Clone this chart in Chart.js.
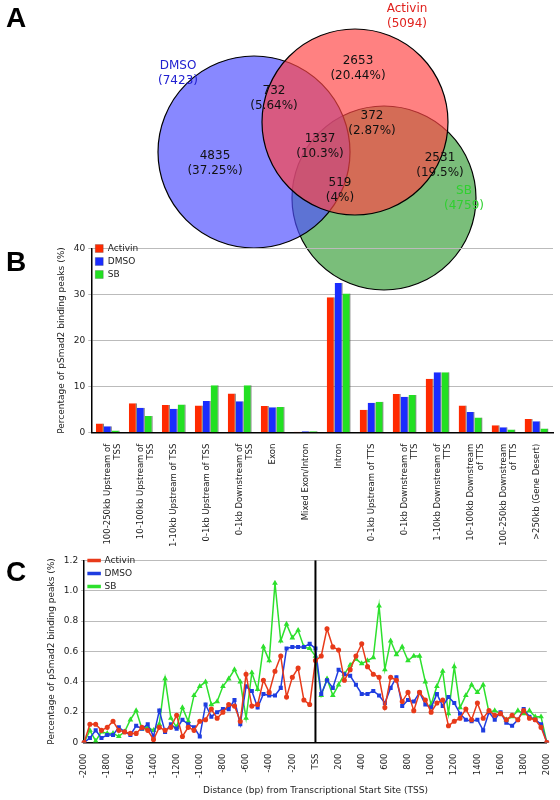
<!DOCTYPE html>
<html><head><meta charset="utf-8">
<script src="https://cdn.jsdelivr.net/npm/chart.js@4"></script>
<style>
body{margin:0;width:560px;height:800px;background:#fff;position:relative;font-family:"DejaVu Sans",sans-serif;overflow:hidden}
.c{position:absolute;left:0}
.lab{position:absolute;font:bold 28px "Liberation Sans",Arial,sans-serif}
</style></head><body>
<div class="c" style="top:0;width:560px;height:300px"><canvas id="a" width="560" height="300" style="width:560px;height:300px"></canvas></div>
<div class="c" style="top:240px;width:560px;height:310px"><canvas id="b"></canvas></div>
<div class="c" style="top:552px;width:560px;height:248px"><canvas id="cc"></canvas></div>
<div class="lab" style="left:6px;top:2px">A</div>
<div class="lab" style="left:6px;top:246px">B</div>
<div class="lab" style="left:6px;top:556px">C</div>
<script>
// ---- Panel A: Venn ----
const vennSets=["Activin","DMSO","SB"];
const vennTotals=[5094,7423,4759];
const vennCx=[355,254,384];
const vennCy=[122,152,198];
const vennR=[93,96,92];
const vennColors=["rgba(255,70,70,0.68)","rgba(80,80,255,0.68)","rgba(40,150,40,0.62)"];
const vennLabelColors=["#e0201c","#2020d0","#30d030"];
const regionCounts=["2653\n(20.44%)","732\n(5.64%)","372\n(2.87%)","1337\n(10.3%)","4835\n(37.25%)","519\n(4%)","2531\n(19.5%)"];
const regionX=[358,274,372,320,215,340,440];
const regionY=[68,98,123,146,163,190,165];
const setLabelX=[407,178,464];
const setLabelY=[16,73,198];

// ---- Panel B ----
const barCats=[["100-250kb Upstream of","TSS"],["10-100kb Upstream of","TSS"],"1-10kb Upstream of TSS","0-1kb Upstream of TSS",["0-1kb Downstream of","TSS"],"Exon","Mixed Exon/Intron","Intron","0-1kb Upstream of TTS",["0-1kb Downstream of","TTS"],["1-10kb Downstream of","TTS"],["10-100kb Downstream","of TTS"],["100-250kb Downstream","of TTS"],">250kb (Gene Desert)"];
const barActivin=[2.0,6.4,6.0,5.9,8.5,5.8,0.2,29.4,5.0,8.4,11.7,5.9,1.6,3.0];
const barDMSO=[1.4,5.4,5.2,6.9,6.8,5.5,0.3,32.5,6.5,7.8,13.1,4.5,1.2,2.5];
const barSB=[0.5,3.6,6.1,10.3,10.3,5.6,0.3,30.2,6.7,8.2,13.1,3.3,0.7,0.9];

// ---- Panel C ----
const distX=[];for(let v=-2000;v<=2000;v+=50)distX.push(v);
const lineActivin=[0,0.12,0.12,0.08,0.10,0.14,0.08,0.07,0.06,0.06,0.10,0.08,0.02,0.10,0.08,0.10,0.18,0.04,0.10,0.08,0.14,0.15,0.22,0.16,0.20,0.25,0.24,0.14,0.45,0.24,0.25,0.41,0.33,0.47,0.57,0.30,0.43,0.49,0.28,0.25,0.54,0.57,0.75,0.63,0.61,0.41,0.48,0.57,0.65,0.50,0.45,0.43,0.23,0.43,0.41,0.27,0.33,0.21,0.33,0.28,0.20,0.26,0.28,0.11,0.14,0.16,0.22,0.15,0.26,0.16,0.21,0.18,0.19,0.15,0.18,0.15,0.21,0.16,0.15,0.10,0];
const lineDMSO=[0,0.03,0.08,0.03,0.05,0.05,0.10,0.07,0.05,0.11,0.09,0.12,0.04,0.21,0.07,0.12,0.09,0.15,0.12,0.10,0.04,0.25,0.17,0.20,0.22,0.22,0.28,0.12,0.37,0.34,0.23,0.32,0.31,0.31,0.36,0.62,0.63,0.63,0.63,0.65,0.62,0.32,0.41,0.36,0.48,0.45,0.44,0.38,0.32,0.32,0.34,0.31,0.26,0.36,0.43,0.24,0.28,0.27,0.33,0.25,0.23,0.32,0.24,0.30,0.26,0.19,0.15,0.14,0.15,0.08,0.20,0.15,0.20,0.13,0.11,0.15,0.22,0.17,0.15,0.12,0];
const lineSB=[0,0.08,0.01,0.07,0.06,0.06,0.04,0.07,0.15,0.21,0.09,0.10,0.08,0.12,0.42,0.16,0.10,0.23,0.14,0.31,0.37,0.40,0.25,0.27,0.37,0.42,0.48,0.40,0.16,0.46,0.35,0.63,0.54,1.05,0.67,0.78,0.69,0.74,0.63,0.62,0.57,0.31,0.42,0.31,0.38,0.45,0.51,0.55,0.52,0.54,0.56,0.90,0.48,0.67,0.58,0.63,0.54,0.57,0.57,0.40,0.25,0.37,0.47,0.19,0.50,0.23,0.31,0.38,0.33,0.38,0.20,0.21,0.19,0.15,0.17,0.21,0.19,0.21,0.17,0.17,0];

const F="'DejaVu Sans', Verdana, sans-serif";
Chart.defaults.font.family=F;Chart.defaults.color="#222";Chart.defaults.animation=false;

// Venn
new Chart(document.getElementById('a'),{type:'bubble',
 data:{datasets:vennSets.map((s,i)=>({data:[{x:vennCx[i],y:vennCy[i],r:vennR[i]}],backgroundColor:vennColors[i],borderColor:'#000',borderWidth:1.2,hoverRadius:0,clip:false}))},
 options:{responsive:false,maintainAspectRatio:false,devicePixelRatio:1,layout:{padding:0,autoPadding:false},plugins:{legend:{display:false},tooltip:{enabled:false}},
  scales:{x:{type:'linear',display:false,min:0,max:560},y:{type:'linear',display:false,min:0,max:300,reverse:true}}},
 plugins:[{id:'txt',afterDraw(ch){const c=ch.ctx,xs=ch.scales.x,ys=ch.scales.y;c.save();c.textAlign='center';c.textBaseline='middle';c.font="12px "+F;
  regionCounts.forEach((t,i)=>{t.split("\n").forEach((l,j)=>{c.fillStyle='#111';c.fillText(l,xs.getPixelForValue(regionX[i]),ys.getPixelForValue(regionY[i])+j*15-7);});});
  vennSets.forEach((s,i)=>{c.fillStyle=vennLabelColors[i];c.fillText(s,xs.getPixelForValue(setLabelX[i]),ys.getPixelForValue(setLabelY[i])-7);c.fillText("("+vennTotals[i]+")",xs.getPixelForValue(setLabelX[i]),ys.getPixelForValue(setLabelY[i])+8);});
  c.restore();}}]
});

// Bar
const mk=(l,d,c)=>({label:l,data:d,backgroundColor:c,borderColor:'#333',borderWidth:{top:0,left:0,right:1,bottom:0},categoryPercentage:0.72,barPercentage:1});
new Chart(document.getElementById('b'),{type:'bar',
 data:{labels:barCats,datasets:[mk('Activin',barActivin,'#ff2a00'),mk('DMSO',barDMSO,'#1a2cff'),mk('SB',barSB,'#22e022')]},
 options:{responsive:true,maintainAspectRatio:false,layout:{padding:{left:52,right:7,top:8}},
  plugins:{legend:{position:'chartArea',align:'start',labels:{boxWidth:8,boxHeight:8,font:{size:9},padding:4}},tooltip:{enabled:false}},
  scales:{y:{min:0,max:40,ticks:{stepSize:10,font:{size:9}},grid:{color:'#bbb',drawTicks:true,tickLength:3},border:{color:'#000',width:1.5},
   title:{display:true,text:'Percentage of pSmad2 binding peaks (%)',font:{size:9}}},
   x:{grid:{display:false},border:{color:'#000',width:1.5},ticks:{font:{size:8.5},maxRotation:90,minRotation:90,autoSkip:false}}}}
});

// Line
const ml=(l,d,c,ps)=>({label:l,data:d,borderColor:c,backgroundColor:c,borderWidth:1.5,pointRadius:1.8,pointStyle:ps,tension:0});
new Chart(document.getElementById('cc'),{type:'line',
 data:{labels:distX,datasets:[ml('Activin',lineActivin,'#e83a1a','circle'),ml('DMSO',lineDMSO,'#1f3de0','rect'),ml('SB',lineSB,'#2de02d','triangle')]},
 options:{responsive:true,maintainAspectRatio:false,layout:{padding:{left:42,right:7,top:8}},
  plugins:{legend:{position:'chartArea',align:'start',labels:{usePointStyle:false,boxWidth:12,boxHeight:2,font:{size:9},padding:4}},tooltip:{enabled:false}},
  scales:{y:{min:0,max:1.2,ticks:{stepSize:0.2,font:{size:9}},grid:{color:'#bbb',tickLength:3},border:{color:'#000',width:1.5},
   title:{display:true,text:'Percentage of pSmad2 binding peaks (%)',font:{size:9}}},
   x:{type:'category',grid:{display:false},border:{color:'#000',width:1.5},
    ticks:{font:{size:8.5},maxRotation:90,minRotation:90,autoSkip:false,callback:(v,i)=>{const d=distX[i];return d%200===0?(d===0?'TSS':String(d)):null;}},
    title:{display:true,text:'Distance (bp) from Transcriptional Start Site (TSS)',font:{size:9}}}}},
 plugins:[{id:'mid',afterDatasetsDraw(ch){const c=ch.ctx,xs=ch.scales.x,a=ch.chartArea;const px=xs.getPixelForValue(distX.indexOf(0));c.save();c.strokeStyle='#000';c.lineWidth=2;c.beginPath();c.moveTo(px,a.top);c.lineTo(px,a.bottom);c.stroke();c.restore();}}]
});
</script></body></html>
